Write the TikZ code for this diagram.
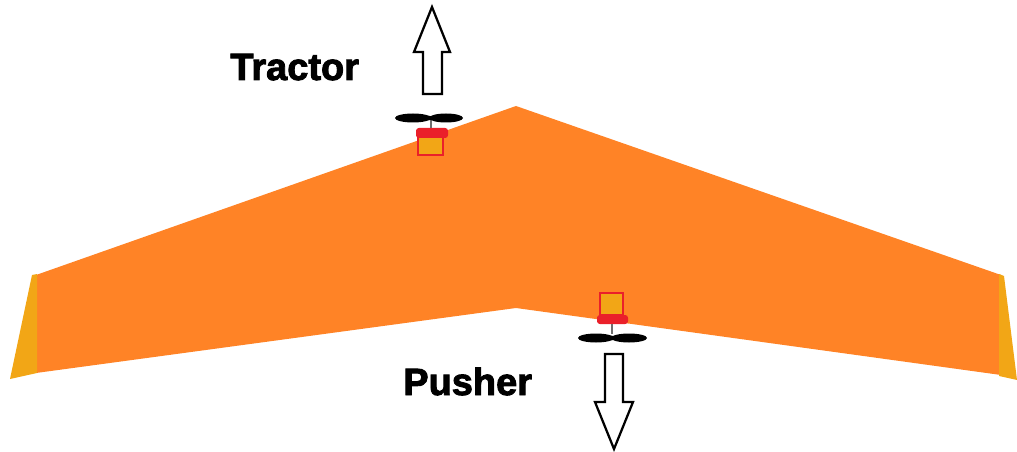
\documentclass[tikz,border=0pt]{standalone}
\usepackage{fontspec}
\setmainfont{Liberation Sans}
\newfontfamily\heavyfont{Liberation Sans}[BoldFont={Liberation Sans Bold},BoldFeatures={FakeBold=2.4}]
\definecolor{wingorange}{RGB}{255,131,38}
\definecolor{tipyellow}{RGB}{242,166,22}
\definecolor{mountred}{RGB}{234,32,42}
\definecolor{shaftgray}{RGB}{110,110,110}
\tikzset{
  wing/.style={fill=wingorange, draw=none},
  winglet/.style={fill=tipyellow, draw=none},
  motorbox/.style={fill=tipyellow, draw=mountred, line width=1.8pt},
  mount/.style={fill=mountred, draw=none, rounded corners=2pt},
  shaft/.style={draw=shaftgray, line width=1.5pt},
  blade/.style={fill=black, draw=none},
  thrust/.style={fill=white, draw=black, line width=1.6pt, line join=miter},
  lbl/.style={font=\heavyfont\bfseries\fontsize{27}{27}\selectfont, inner sep=0pt, text=black},
}
\begin{document}
\begin{tikzpicture}[x=0.025cm, y=-0.025cm]
  \useasboundingbox (0,0) rectangle (1017,452);

  % ---- flying wing -------------------------------------------------
  \fill[wing] (516,106) -- (1001,275) -- (1001,375) -- (516,308)
              -- (36,373) -- (36,275) -- cycle;
  \fill[winglet] (32,275) -- (37,274) -- (37,373) -- (10,379) -- cycle;   % left tip
  \fill[winglet] (999,274) -- (1004,276) -- (1017,380) -- (999,376) -- cycle; % right tip

  % ---- tractor motor (front, prop ahead of the wing) ---------------
  \draw[motorbox] (418,135) rectangle (443,155);
  \fill[mount] (416,128) rectangle (448,138);
  \draw[shaft] (431,120) -- (431,128);
  \fill[blade] (413,118) ellipse (18 and 4.5);
  \fill[blade] (446,118) ellipse (17 and 4.5);
  \fill[blade] (429,118) ellipse (4 and 2.2); % hub
  \draw[thrust] (423,94) -- (423,52) -- (414,52) -- (432,7) -- (450,52)
                -- (442,52) -- (442,94) -- cycle;
  \node[lbl, anchor=base west] (tractor) at (230,80) {\textbf{Tractor}};

  % ---- pusher motor (rear, prop behind the wing) -------------------
  \draw[motorbox] (600,293) rectangle (623,315);
  \fill[mount] (597,315) rectangle (628,324);
  \draw[shaft] (612,324) -- (612,334);
  \fill[blade] (596,338) ellipse (18 and 4.5);
  \fill[blade] (629,338) ellipse (18 and 4.5);
  \fill[blade] (612,338) ellipse (4 and 2.2); % hub
  \draw[thrust] (605,354) -- (623,354) -- (623,402) -- (633,402) -- (614,449)
                -- (595,402) -- (605,402) -- cycle;
  \node[lbl, anchor=base west] (pusher) at (403,395) {\textbf{Pusher}};
\end{tikzpicture}
\end{document}
